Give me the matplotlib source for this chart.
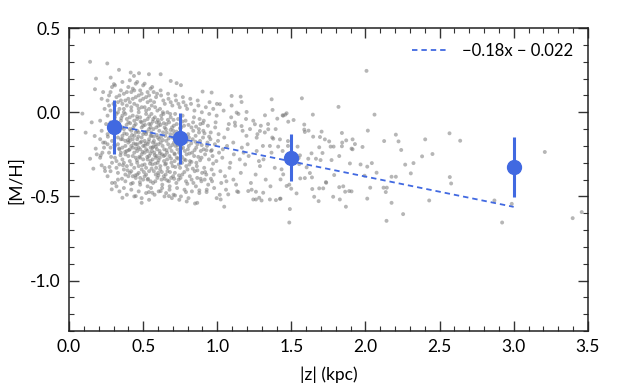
import numpy as np
import matplotlib
matplotlib.use("Agg")
import matplotlib.pyplot as plt
from matplotlib.ticker import MultipleLocator

# ================= DATA =================
# individual stars (|z| kpc, [M/H]), grouped by region
cloud_left = [
    (0.142, 0.30), (0.182, 0.20), (0.090, -0.008), (0.112, -0.121), (0.142, -0.276),
    (0.164, -0.335), (0.153, -0.06), (0.175, 0.137), (0.173, -0.141), (0.187, -0.25),
    (0.180, -0.216), (0.225, -0.240), (0.214, -0.256), (0.236, -0.210), (0.243, -0.180),
    (0.220, -0.315), (0.243, -0.349), (0.288, -0.458), (0.310, -0.419), (0.360, -0.508),
    (0.450, -0.498), (0.490, -0.538), (0.562, -0.478), (0.539, -0.474), (0.618, -0.468),
    (0.674, -0.498), (0.258, 0.29), (0.337, 0.252), (0.416, 0.236), (0.472, 0.232),
    (0.438, 0.216), (0.539, 0.226), (0.618, 0.226), (0.686, 0.186), (0.281, 0.206),
    (0.303, 0.167), (0.726, 0.173), (0.755, 0.161), (0.901, 0.123), (0.962, 0.117),
    (1.018, 0.048), (0.715, -0.494), (0.850, -0.542), (0.865, -0.538), (0.996, -0.510),
    (1.023, -0.518), (1.047, -0.561), (0.789, -0.474), (0.879, -0.464), (0.928, -0.474),
    (1.074, -0.488), (1.142, -0.474), (1.209, -0.468), (1.261, -0.472), (1.310, -0.478),
]

inner_disk = [
    (0.21, -0.05), (0.22, 0.08), (0.23, -0.18), (0.21, -0.27), (0.24, 0.02), (0.22, -0.11),
    (0.24, -0.33), (0.23, 0.12), (0.25, -0.07), (0.21, -0.16),
    (0.26, -0.02), (0.27, 0.10), (0.28, -0.21), (0.26, -0.13), (0.29, -0.30), (0.27, 0.04),
    (0.28, -0.06), (0.26, -0.38), (0.29, 0.15), (0.30, -0.12), (0.27, -0.24), (0.28, 0.01),
    (0.26, 0.07), (0.29, -0.17), (0.28, -0.35), (0.27, -0.09), (0.30, 0.05), (0.29, -0.42),
    (0.26, -0.19), (0.28, 0.12),
    (0.31, -0.03), (0.32, 0.09), (0.33, -0.15), (0.31, -0.27), (0.34, 0.02), (0.32, -0.08),
    (0.33, -0.36), (0.35, 0.13), (0.31, -0.20), (0.34, -0.11), (0.32, -0.44), (0.33, 0.06),
    (0.35, -0.24), (0.31, 0.16), (0.34, -0.31), (0.32, -0.01), (0.33, -0.19), (0.35, -0.05),
    (0.31, -0.12), (0.34, 0.10), (0.32, -0.29), (0.33, -0.40), (0.35, -0.16), (0.31, 0.04),
    (0.34, -0.22), (0.33, 0.00), (0.32, -0.33), (0.35, 0.07), (0.34, -0.47), (0.31, -0.09),
    (0.36, -0.02), (0.37, 0.11), (0.38, -0.17), (0.36, -0.28), (0.39, 0.04), (0.37, -0.10),
    (0.38, -0.37), (0.40, 0.15), (0.36, -0.21), (0.39, -0.13), (0.37, -0.45), (0.38, 0.07),
    (0.40, -0.26), (0.36, 0.18), (0.39, -0.32), (0.37, 0.00), (0.38, -0.20), (0.40, -0.06),
    (0.36, -0.14), (0.39, 0.12), (0.37, -0.30), (0.38, -0.41), (0.40, -0.18), (0.36, 0.05),
    (0.39, -0.23), (0.38, -0.01), (0.37, -0.34), (0.40, 0.08), (0.39, -0.49), (0.36, -0.09),
    (0.38, -0.25), (0.37, 0.02), (0.40, -0.38), (0.36, -0.16), (0.39, -0.04),
    (0.41, -0.03), (0.42, 0.12), (0.43, -0.16), (0.41, -0.29), (0.44, 0.05), (0.42, -0.11),
    (0.43, -0.38), (0.45, 0.17), (0.41, -0.22), (0.44, -0.14), (0.42, -0.46), (0.43, 0.08),
    (0.45, -0.27), (0.41, 0.19), (0.44, -0.33), (0.42, 0.01), (0.43, -0.21), (0.45, -0.07),
    (0.41, -0.15), (0.44, 0.13), (0.42, -0.31), (0.43, -0.42), (0.45, -0.19), (0.41, 0.06),
    (0.44, -0.24), (0.43, -0.02), (0.42, -0.35), (0.45, 0.09), (0.44, -0.50), (0.41, -0.10),
    (0.43, -0.26), (0.42, 0.03), (0.45, -0.39), (0.41, -0.17), (0.44, -0.05), (0.42, -0.20),
    (0.43, 0.14), (0.45, -0.12), (0.41, -0.36), (0.44, -0.08),
    (0.46, -0.04), (0.47, 0.10), (0.48, -0.18), (0.46, -0.30), (0.49, 0.03), (0.47, -0.12),
    (0.48, -0.39), (0.50, 0.16), (0.46, -0.23), (0.49, -0.15), (0.47, -0.47), (0.48, 0.07),
    (0.50, -0.28), (0.46, 0.18), (0.49, -0.34), (0.47, 0.00), (0.48, -0.22), (0.50, -0.08),
    (0.46, -0.16), (0.49, 0.11), (0.47, -0.32), (0.48, -0.43), (0.50, -0.20), (0.46, 0.04),
    (0.49, -0.25), (0.48, -0.03), (0.47, -0.36), (0.50, 0.08), (0.49, -0.51), (0.46, -0.11),
    (0.48, -0.27), (0.47, 0.02), (0.50, -0.40), (0.46, -0.19), (0.49, -0.06), (0.47, -0.21),
    (0.48, 0.13), (0.50, -0.13), (0.46, -0.37), (0.49, -0.09),
    (0.51, -0.05), (0.52, 0.09), (0.53, -0.19), (0.51, -0.31), (0.54, 0.02), (0.52, -0.13),
    (0.53, -0.40), (0.55, 0.14), (0.51, -0.24), (0.54, -0.16), (0.52, -0.48), (0.53, 0.06),
    (0.55, -0.29), (0.51, 0.17), (0.54, -0.35), (0.52, -0.01), (0.53, -0.23), (0.55, -0.09),
    (0.51, -0.17), (0.54, 0.10), (0.52, -0.33), (0.53, -0.44), (0.55, -0.21), (0.51, 0.03),
    (0.54, -0.26), (0.53, -0.04), (0.52, -0.37), (0.55, 0.07), (0.54, -0.52), (0.51, -0.12),
    (0.53, -0.28), (0.52, 0.01), (0.55, -0.41), (0.51, -0.20), (0.54, -0.07), (0.52, -0.22),
    (0.53, 0.12), (0.55, -0.14), (0.51, -0.38), (0.54, -0.10),
    (0.552, -0.07), (0.571, 0.12), (0.563, -0.21), (0.588, -0.33), (0.596, 0.01), (0.557, -0.14),
    (0.582, -0.41), (0.574, 0.06), (0.591, -0.26), (0.566, -0.18), (0.553, -0.45), (0.579, -0.03),
    (0.598, -0.30), (0.561, 0.15), (0.585, -0.37), (0.569, -0.10), (0.593, -0.22), (0.577, -0.49),
    (0.556, -0.01), (0.587, 0.09), (0.564, -0.28), (0.599, -0.15), (0.572, -0.35), (0.558, 0.04),
    (0.583, -0.19), (0.591, -0.06), (0.567, -0.42), (0.575, -0.24), (0.554, -0.12), (0.596, -0.39),
    (0.581, 0.03), (0.562, -0.31), (0.589, -0.09), (0.573, -0.17), (0.559, -0.23), (0.594, 0.11),
    (0.568, -0.04), (0.586, -0.27),
    (0.603, -0.08), (0.621, 0.10), (0.642, -0.22), (0.615, -0.34), (0.637, -0.01), (0.608, -0.16),
    (0.629, -0.43), (0.646, 0.05), (0.612, -0.27), (0.634, -0.12), (0.605, -0.47), (0.625, -0.04),
    (0.648, -0.31), (0.618, 0.13), (0.639, -0.38), (0.609, -0.11), (0.631, -0.20), (0.644, -0.50),
    (0.614, 0.02), (0.627, -0.25), (0.602, -0.36), (0.636, 0.07), (0.619, -0.18), (0.641, -0.29),
    (0.607, -0.06), (0.624, -0.40), (0.649, -0.14), (0.611, -0.23), (0.633, 0.00), (0.616, -0.32),
    (0.645, -0.09), (0.628, -0.45), (0.604, -0.19), (0.638, -0.26), (0.622, -0.02),
    (0.653, -0.10), (0.671, 0.08), (0.692, -0.23), (0.664, -0.35), (0.686, -0.03), (0.657, -0.17),
    (0.679, -0.44), (0.697, 0.04), (0.662, -0.28), (0.684, -0.13), (0.655, -0.48), (0.675, -0.06),
    (0.699, -0.32), (0.668, 0.11), (0.689, -0.39), (0.659, -0.12), (0.681, -0.21), (0.694, -0.51),
    (0.664, 0.00), (0.677, -0.26), (0.652, -0.37), (0.686, 0.06), (0.669, -0.19), (0.691, -0.30),
    (0.657, -0.07), (0.674, -0.41), (0.698, -0.15), (0.661, -0.24), (0.683, -0.01), (0.666, -0.33),
    (0.695, -0.09), (0.678, -0.46),
    (0.703, -0.11), (0.722, 0.07), (0.743, -0.24), (0.714, -0.36), (0.736, -0.04), (0.708, -0.18),
    (0.729, -0.45), (0.747, 0.03), (0.712, -0.29), (0.734, -0.14), (0.705, -0.49), (0.726, -0.07),
    (0.749, -0.33), (0.718, 0.10), (0.739, -0.40), (0.709, -0.13), (0.731, -0.22), (0.744, -0.52),
    (0.716, -0.01), (0.727, -0.27), (0.702, -0.38), (0.738, 0.05), (0.719, -0.20), (0.741, -0.31),
    (0.707, -0.08), (0.724, -0.42), (0.746, -0.16), (0.713, -0.25),
    (0.753, -0.12), (0.772, 0.06), (0.793, -0.25), (0.764, -0.37), (0.786, -0.05), (0.758, -0.19),
    (0.779, -0.46), (0.797, 0.02), (0.762, -0.30), (0.784, -0.15), (0.755, -0.50), (0.776, -0.08),
    (0.799, -0.34), (0.768, 0.09), (0.789, -0.41), (0.759, -0.14), (0.781, -0.23), (0.794, -0.53),
    (0.766, -0.02), (0.777, -0.28), (0.752, -0.39), (0.788, 0.04), (0.769, -0.21), (0.791, -0.32),
    (0.757, -0.09),
    (0.804, -0.13), (0.823, 0.05), (0.844, -0.26), (0.815, -0.38), (0.837, -0.06), (0.808, -0.20),
    (0.829, -0.47), (0.846, 0.01), (0.812, -0.31), (0.834, -0.16), (0.806, -0.51), (0.826, -0.09),
    (0.848, -0.35), (0.818, 0.08), (0.839, -0.42), (0.809, -0.15), (0.831, -0.24), (0.843, -0.03),
    (0.816, -0.29), (0.827, -0.40), (0.802, -0.22), (0.838, -0.11),
    (0.854, -0.14), (0.873, 0.04), (0.894, -0.27), (0.865, -0.39), (0.886, -0.07), (0.858, -0.21),
    (0.879, -0.48), (0.896, 0.00), (0.862, -0.32), (0.884, -0.17), (0.856, -0.44), (0.876, -0.10),
    (0.898, -0.36), (0.868, 0.07), (0.889, -0.23), (0.859, -0.30), (0.881, -0.04), (0.893, -0.41),
    (0.866, -0.19), (0.877, -0.12),
    (0.904, -0.15), (0.923, 0.03), (0.944, -0.28), (0.915, -0.40), (0.937, -0.08), (0.908, -0.22),
    (0.929, -0.46), (0.946, -0.01), (0.912, -0.33), (0.934, -0.18), (0.906, -0.11), (0.926, -0.37),
    (0.948, 0.06), (0.918, -0.25), (0.939, -0.43), (0.909, -0.05), (0.931, -0.20),
    (0.954, -0.16), (0.973, 0.02), (0.994, -0.29), (0.965, -0.41), (0.986, -0.09), (0.958, -0.23),
    (0.979, -0.45), (0.996, -0.02), (0.962, -0.34), (0.984, -0.19), (0.956, -0.12), (0.976, -0.37),
    (0.998, 0.05), (0.968, -0.26), (0.989, -0.06),
]

# the densest part of the cloud, filled in between the points above
core_fill = [
    (0.262, -0.145), (0.318, -0.055), (0.347, -0.255), (0.373, -0.125), (0.395, -0.345),
    (0.412, -0.065), (0.436, -0.185), (0.458, -0.285), (0.467, -0.145), (0.483, -0.055),
    (0.497, -0.235), (0.505, -0.355), (0.524, -0.115), (0.538, -0.175), (0.546, -0.305),
    (0.565, -0.055), (0.578, -0.255), (0.592, -0.135), (0.604, -0.285), (0.617, -0.075),
    (0.633, -0.165), (0.645, -0.395), (0.658, -0.225), (0.672, -0.155), (0.688, -0.275),
    (0.705, -0.045), (0.717, -0.325), (0.733, -0.195), (0.748, -0.095), (0.762, -0.265),
    (0.778, -0.355), (0.793, -0.175), (0.812, -0.245), (0.835, -0.335), (0.857, -0.085),
    (0.872, -0.265), (0.895, -0.195), (0.918, -0.355), (0.945, -0.145), (0.972, -0.305),
    (0.284, -0.265), (0.305, -0.195), (0.329, -0.105), (0.352, -0.035), (0.364, -0.315),
    (0.388, -0.075), (0.404, -0.225), (0.425, -0.135), (0.447, -0.375), (0.459, -0.025),
    (0.474, -0.265), (0.489, -0.175), (0.512, -0.075), (0.528, -0.265), (0.541, -0.025),
    (0.557, -0.335), (0.572, -0.145), (0.586, -0.205), (0.599, -0.045), (0.613, -0.245),
    (0.626, -0.355), (0.639, -0.065), (0.654, -0.305), (0.667, -0.045), (0.681, -0.355),
    (0.696, -0.195), (0.711, -0.245), (0.725, -0.115), (0.742, -0.375), (0.757, -0.215),
    (0.773, -0.145), (0.787, -0.285), (0.806, -0.075), (0.824, -0.185), (0.847, -0.225),
    (0.866, -0.345), (0.884, -0.285), (0.903, -0.065), (0.927, -0.225), (0.957, -0.395),
    (0.273, -0.325), (0.296, -0.085), (0.338, -0.215), (0.357, -0.395), (0.379, -0.235),
    (0.398, -0.165), (0.418, -0.425), (0.431, -0.095), (0.452, -0.215), (0.478, -0.415),
    (0.493, -0.315), (0.517, -0.185), (0.533, -0.395), (0.549, -0.245), (0.568, -0.205),
    (0.582, -0.305), (0.603, -0.375), (0.621, -0.145), (0.647, -0.255), (0.663, -0.405),
    (0.685, -0.105), (0.709, -0.395), (0.736, -0.275), (0.765, -0.055), (0.798, -0.425),
    (0.826, -0.295), (0.853, -0.175), (0.888, -0.395), (0.914, -0.125), (0.963, -0.225),
]

outer_disk = [
    (1.005, -0.17), (1.043, 0.01), (1.088, -0.30), (1.027, -0.42), (1.071, -0.10), (1.012, -0.24),
    (1.059, -0.46), (1.094, -0.03), (1.021, -0.35), (1.066, -0.20), (1.009, -0.13), (1.052, -0.38),
    (1.097, 0.04), (1.034, -0.27), (1.078, -0.07), (1.017, -0.49), (1.047, -0.15), (1.083, -0.33),
    (1.038, -0.22), (1.062, -0.41),
    (1.108, -0.18), (1.143, -0.01), (1.188, -0.31), (1.127, -0.43), (1.171, -0.11), (1.112, -0.25),
    (1.159, -0.36), (1.194, -0.04), (1.121, -0.08), (1.166, -0.21), (1.109, -0.40), (1.152, -0.28),
    (1.197, -0.14), (1.134, -0.47), (1.178, -0.24),
    (1.205, -0.19), (1.243, -0.05), (1.288, -0.32), (1.227, -0.42), (1.271, -0.13), (1.212, -0.26),
    (1.259, -0.37), (1.294, -0.08), (1.221, -0.10), (1.266, -0.23), (1.232, -0.46), (1.281, -0.29),
    (1.308, -0.20), (1.343, -0.07), (1.388, -0.33), (1.327, -0.40), (1.371, -0.15), (1.312, -0.28),
    (1.359, -0.44), (1.394, -0.10), (1.321, -0.12), (1.366, -0.24),
    (1.097, 0.097), (1.158, 0.093), (1.164, 0.061), (1.367, 0.077), (1.322, -0.018), (1.373, 0.014),
    (1.405, -0.038), (1.441, -0.018), (1.468, -0.006), (1.131, -0.002), (1.198, 0.002),
    (1.119, -0.061), (1.164, -0.082), (1.254, -0.071), (1.288, -0.111), (1.344, -0.101),
    (1.266, -0.151), (1.378, -0.157), (1.423, -0.161), (1.355, -0.200), (1.411, -0.204),
    (1.243, -0.518), (1.283, -0.508), (1.299, -0.524), (1.355, -0.518), (1.396, -0.522),
    (1.423, -0.514), (1.261, -0.518),
]

halo = [
    (2.007, 0.246), (1.571, 0.083), (1.818, 0.032), (2.061, -0.014), (1.645, -0.014),
    (1.445, -0.020), (1.459, -0.014), (1.479, -0.056), (1.515, -0.046), (1.587, -0.073),
    (1.587, -0.103), (1.616, -0.109), (1.704, -0.115), (1.841, -0.123), (2.016, -0.109),
    (2.205, -0.133), (2.403, -0.161), (2.126, -0.171), (2.223, -0.173), (1.726, -0.161),
    (1.755, -0.173), (1.785, -0.204), (1.765, -0.204), (1.870, -0.167), (1.913, -0.161),
    (1.929, -0.189), (1.843, -0.180), (1.841, -0.202), (1.913, -0.220), (2.241, -0.224),
    (2.452, -0.248), (2.382, -0.262), (1.688, -0.208), (1.710, -0.242), (1.636, -0.244),
    (1.697, -0.284), (1.666, -0.276), (1.614, -0.276), (1.549, -0.272), (1.553, -0.308),
    (1.771, -0.284), (1.823, -0.260), (1.895, -0.304), (1.967, -0.310), (2.012, -0.323),
    (2.043, -0.302), (1.994, -0.377), (2.268, -0.311), (2.324, -0.302), (2.306, -0.363),
    (2.176, -0.383), (2.205, -0.383), (2.075, -0.359), (1.603, -0.327), (1.625, -0.361),
    (1.639, -0.387), (1.591, -0.391), (1.560, -0.393), (1.789, -0.373), (1.735, -0.419),
    (1.688, -0.452), (1.641, -0.456), (1.715, -0.452), (1.733, -0.415), (1.850, -0.440),
    (1.890, -0.468), (1.863, -0.472), (1.906, -0.470), (1.823, -0.445), (1.782, -0.502),
    (1.827, -0.518), (1.868, -0.561), (1.654, -0.502), (1.684, -0.528), (1.535, -0.482),
    (2.032, -0.448), (2.122, -0.448), (2.144, -0.448), (2.137, -0.474), (2.176, -0.538),
    (2.012, -0.513), (1.490, -0.575), (1.486, -0.655), (2.142, -0.645), (2.254, -0.605),
    (1.427, -0.513), (1.468, -0.438), (1.499, -0.454), (1.486, -0.430), (1.434, -0.339),
    (1.445, -0.369), (1.427, -0.399), (1.524, -0.290), (1.558, -0.256), (1.542, -0.204),
    (1.477, -0.200), (1.477, -0.171), (1.441, -0.230), (1.647, -0.145), (1.693, -0.147),
    (1.591, -0.117), (1.906, -0.216), (1.980, -0.206), (2.430, -0.524), (2.567, -0.125),
    (2.639, -0.169), (2.569, -0.385), (2.578, -0.423), (2.870, -0.524), (2.987, -0.544),
    (2.922, -0.655), (3.210, -0.236), (3.398, -0.629), (3.459, -0.593),
]

# binned medians with spread
bin_z = [0.3, 0.75, 1.5, 3.0]
bin_mh = [-0.09, -0.155, -0.27, -0.325]
bin_err = [0.16, 0.15, 0.14, 0.18]

# linear gradient fit
FIT_SLOPE = -0.18
FIT_INTERCEPT = -0.022

# ================= STYLE =================
BLUE = "#4169e1"
plt.rcParams["font.family"] = ["Lato", "DejaVu Sans"]
plt.rcParams["axes.unicode_minus"] = False

fig = plt.figure(figsize=(6.22, 3.85), dpi=100)
ax = fig.add_axes([0.111, 0.140, 0.834, 0.787])

stars = np.array(cloud_left + inner_disk + core_fill + outer_disk + halo)
ax.scatter(stars[:, 0], stars[:, 1], s=8, color="#7a7a7a", alpha=0.55,
           edgecolors="none", zorder=1)

zfit = np.array([bin_z[0], bin_z[-1]])
ax.plot(zfit, FIT_SLOPE * zfit + FIT_INTERCEPT, "--", color=BLUE, lw=1.3,
        dashes=(3, 2.2), zorder=2, label="\u22120.18x \u2212 0.022")

ax.errorbar(bin_z, bin_mh, yerr=bin_err, fmt="o", color=BLUE, ms=10,
            elinewidth=2.2, capsize=0, zorder=3)

ax.set_xlim(0, 3.5)
ax.set_ylim(-1.3, 0.5)
ax.xaxis.set_major_locator(MultipleLocator(0.5))
ax.xaxis.set_minor_locator(MultipleLocator(0.1))
ax.yaxis.set_major_locator(MultipleLocator(0.5))
ax.yaxis.set_minor_locator(MultipleLocator(0.1))
ax.tick_params(which="both", direction="in", top=True, right=True,
               labelsize=12.5, color="#333333")
ax.tick_params(which="major", length=7, width=1.0, pad=6)
ax.tick_params(which="minor", length=3.6, width=0.8)
for sp in ax.spines.values():
    sp.set_linewidth(1.1)
    sp.set_color("#222222")

ax.set_xlabel("|z| (kpc)", fontsize=12.5, labelpad=8)
ax.set_ylabel("[M/H]", fontsize=12.5, labelpad=4)

ax.legend(loc="upper right", frameon=False, fontsize=12, handlelength=2.2,
          borderaxespad=0.5)

fig.savefig("out.png", dpi=100)
